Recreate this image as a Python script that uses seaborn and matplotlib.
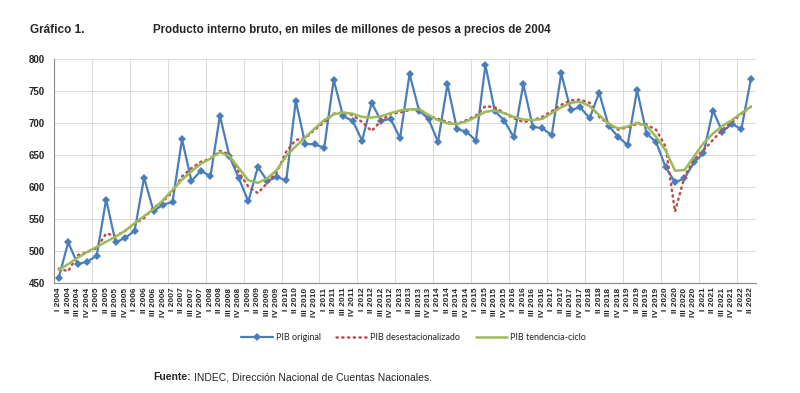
import numpy as np
import pandas as pd
import matplotlib
matplotlib.use("Agg")
import matplotlib.pyplot as plt
import seaborn as sns

# quarters I 2004 .. II 2022
years = list(range(2004, 2023))
quarter_names = ["I", "II", "III", "IV"]
quarters = [f"{q} {y}" for y in years for q in quarter_names][:74]

# PIB original (miles de millones de pesos de 2004)
pib_original = [
    459, 514, 480, 484,
    493, 581, 514, 521,
    532, 615, 563, 573,
    577, 675, 610, 626,
    617, 712, 649, 614,
    578, 632, 610, 616,
    611, 735, 668, 667,
    662, 768, 711, 704,
    673, 732, 704, 707,
    677, 777, 720, 707,
    671, 761, 691, 687,
    673, 791, 719, 704,
    678, 761, 695, 692,
    682, 778, 721, 725,
    708, 748, 696, 679,
    666, 752, 684, 671,
    632, 608, 614, 639,
    653, 720, 687, 699,
    691, 769,
]

# PIB desestacionalizado
pib_desest = [
    473, 469, 494, 499,
    505, 528, 524, 532,
    543, 552, 568, 578,
    593, 617, 630, 640,
    645, 657, 652, 623,
    601, 591, 607, 624,
    656, 674, 677, 690,
    702, 715, 717, 713,
    702, 688, 704, 715,
    717, 721, 723, 712,
    707, 702, 699, 705,
    712, 727, 725, 716,
    708, 702, 705, 710,
    719, 729, 736, 737,
    732, 710, 699, 690,
    694, 699, 698, 690,
    664, 562, 617, 643,
    658, 674, 690, 702,
    715, 726,
]

# PIB tendencia-ciclo
pib_tendencia = [
    471, 480, 490, 499,
    507, 515, 523, 532,
    544, 555, 566, 580,
    596, 612, 625, 637,
    645, 655, 649, 630,
    611, 607, 614, 627,
    649, 664, 678, 692,
    705, 714, 717, 715,
    710, 709, 711, 716,
    720, 722, 722, 713,
    705, 700, 699, 703,
    710, 718, 720, 716,
    710, 706, 705, 707,
    716, 725, 732, 734,
    727, 713, 699, 692,
    695, 701, 696, 679,
    658, 626, 627, 648,
    669, 684, 696, 705,
    716, 726,
]

df = pd.DataFrame({
    "pos": np.arange(len(quarters)),
    "trimestre": quarters,
    "original": pib_original,
    "desest": pib_desest,
    "tendencia": pib_tendencia,
})

sns.set_style("white")
plt.rcParams["font.family"] = ["Liberation Sans", "DejaVu Sans"]

fig = plt.figure(figsize=(8, 3.93), dpi=100)
ax = fig.add_axes([0.0675, 0.279, 0.877, 0.570])

blue = "#4a7ebb"
red = "#be4b48"
green = "#9bbb59"

sns.lineplot(data=df, x="pos", y="original", ax=ax, color=blue, linewidth=1.6,
             marker="D", markersize=4, markeredgewidth=0, label="PIB original")
sns.lineplot(data=df, x="pos", y="desest", ax=ax, color=red, linewidth=1.8,
             linestyle=(0, (0.5, 1.8)), dash_capstyle="round",
             label="PIB desestacionalizado")
sns.lineplot(data=df, x="pos", y="tendencia", ax=ax, color=green, linewidth=1.8,
             label="PIB tendencia-ciclo")

ax.set_xlim(-0.5, len(quarters) - 0.5)
ax.set_ylim(450, 800)
ax.set_yticks(range(450, 801, 50))
ax.set_xticks(df["pos"])
ax.set_xticklabels(quarters, rotation=90, fontsize=6, fontweight="bold")
ax.set_xticks(np.arange(-0.5, len(quarters), 4), minor=True)
ax.tick_params(axis="x", which="major", length=0, pad=3)
ax.tick_params(axis="x", which="minor", length=3, color="#888888")
ax.tick_params(axis="y", labelsize=7, length=3, color="#888888")
for lbl in ax.get_yticklabels():
    lbl.set_fontweight("bold")
ax.set_xlabel("")
ax.set_ylabel("")

ax.grid(axis="y", color="#d9d9d9", linewidth=0.7)
ax.grid(axis="x", which="minor", color="#d9d9d9", linewidth=0.7)
ax.set_axisbelow(True)
for s in ["top", "right"]:
    ax.spines[s].set_visible(False)
ax.spines["left"].set_color("#888888")
ax.spines["bottom"].set_color("#888888")
ax.spines["left"].set_linewidth(0.8)
ax.spines["bottom"].set_linewidth(0.8)

ax.legend(loc="center", bbox_to_anchor=(0.517, 0.14), bbox_transform=fig.transFigure,
          ncol=3, frameon=False, handlelength=3.5, columnspacing=1.7,
          handletextpad=0.3, prop={"family": ["Lato", "DejaVu Sans"], "size": 6.5})

fig.text(0.0375, 0.915, "Gráfico 1.", fontsize=8.5, fontweight="bold", va="baseline")
fig.text(0.191, 0.915, "Producto interno bruto, en miles de millones de pesos a precios de 2004",
         fontsize=8.3, fontweight="bold", va="baseline")

fig.text(0.191, 0.032, "Fuente:", fontsize=7.5, fontweight="bold", va="baseline")
fig.text(0.2425, 0.032, "INDEC, Dirección Nacional de Cuentas Nacionales.", fontsize=7.5,
         va="baseline")

fig.savefig("out.png", dpi=100)
